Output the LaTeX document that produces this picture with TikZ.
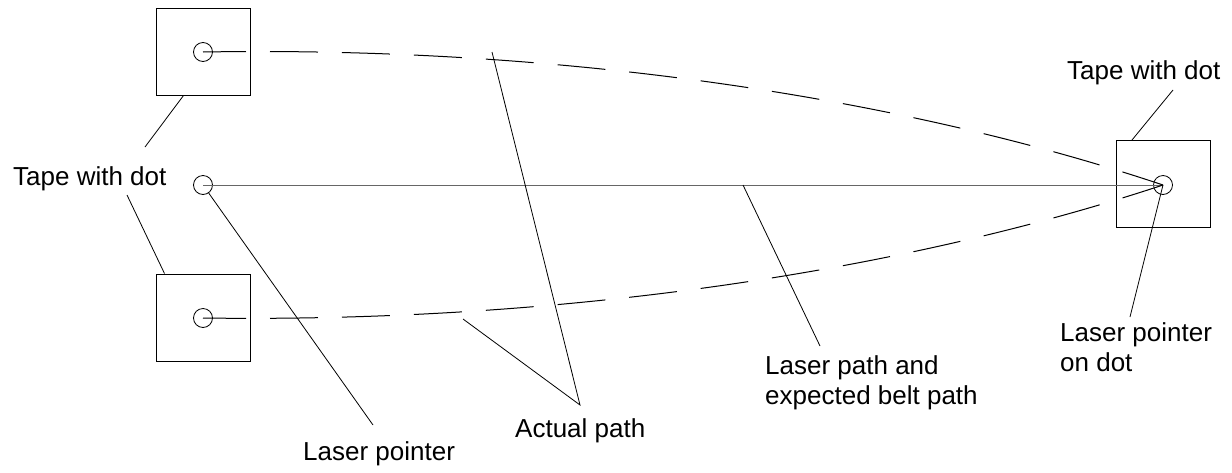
\documentclass[tikz,border=0pt]{standalone}
\usepackage{fontspec}
\setmainfont{Liberation Sans}
\usetikzlibrary{calc,positioning}
\tikzset{
  tape/.style={draw=black, line width=1pt, minimum width=94pt, minimum height=87pt, inner sep=0pt},
  dot/.style={draw=black, circle, line width=0.8pt, minimum size=19pt, inner sep=0pt},
  belt/.style={line width=1pt, dash pattern=on 48pt off 24pt, dash phase=5pt},
  laser/.style={line width=1pt, draw=black!60},
  leader/.style={line width=0.8pt},
  note/.style={font=\fontsize{26}{30}\selectfont, inner sep=0pt, align=left}
}

\begin{document}
\begin{tikzpicture}[x=1pt,y=-1pt]
  \useasboundingbox (0,0) rectangle (1232,472);
  % tapes and dots
  \node[tape] (tapeT) at (203,51.5) {};
  \node[tape] (tapeB) at (203,317.5) {};
  \node[tape] (tapeR) at (1163.5,184) {};
  \node[dot] (dotT) at (203,52) {};
  \node[dot] (dotM) at (203,185) {};
  \node[dot] (dotB) at (203,318) {};
  \node[dot] (dotR) at (1163,185) {};
  % laser and belt
  \draw[laser] (dotM.center) -- (dotR.center);
  \draw[belt] (dotT.center) .. controls (560,46) and (900,97) .. (dotR.center);
  \draw[belt] (dotB.center) .. controls (560,323) and (900,272) .. (dotR.center);
  % labels
  \node[note, anchor=base west] (lblTapeL) at (13,185) {Tape with dot};
  \node[note, anchor=base west] (lblTapeR) at (1067,79) {Tape with dot};
  \node[note, anchor=base west] (lblLaser) at (303,460) {Laser pointer};
  \node[note, anchor=base west] (lblActual) at (515,437) {Actual path};
  \node[note, anchor=north west] (lblPath) at (765,355) {Laser path and\\expected belt path};
  \node[note, anchor=north west] (lblOnDot) at (1060,322) {Laser pointer\\on dot};
  % leaders
  \coordinate (ldT) at (145,147);
  \coordinate (ldB) at (127,195);
  \coordinate (ldR) at (1173,90);
  \coordinate (ldLaser) at (373,425);
  \coordinate (ldActT) at (492,52);
  \coordinate (ldActB) at (463,319);
  \coordinate (ldAct) at (580,405);
  \coordinate (ldPathA) at (743,185);
  \coordinate (ldPath) at (820,346);
  \coordinate (ldOnDot) at (1130,317);
  \draw[leader] ([xshift=28pt]tapeT.south west) -- (ldT);
  \draw[leader] (ldB) -- ([xshift=9pt]tapeB.north west);
  \draw[leader] (ldR) -- ([xshift=16pt]tapeR.north west);
  \draw[leader] (dotM) -- (ldLaser);
  \draw[leader] (ldActT) -- (ldAct) -- (ldActB);
  \draw[leader] (ldPathA) -- (ldPath);
  \draw[leader] (ldOnDot) -- (dotR.center);
\end{tikzpicture}
\end{document}
